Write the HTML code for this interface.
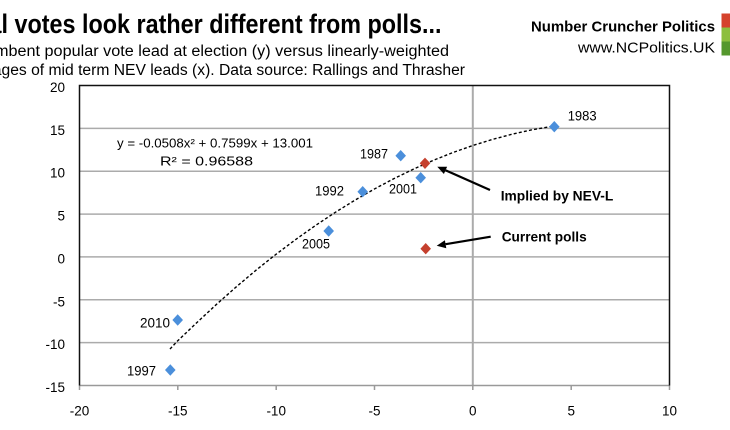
<!DOCTYPE html>
<html><head><meta charset="utf-8"><style>
html,body{margin:0;padding:0;background:#fff;}
svg{display:block;}
text{font-family:"Liberation Sans",Arial,sans-serif;fill:#000;}
</style></head><body>
<svg width="730" height="430" viewBox="0 0 730 430" xmlns="http://www.w3.org/2000/svg">
<rect x="0" y="0" width="730" height="430" fill="#fff"/>
<!-- Title -->
<text x="1.5" y="33" font-size="26.5" font-weight="bold" text-anchor="end">Actua</text>
<text x="1.5" y="33" font-size="26.5" font-weight="bold" textLength="440" lengthAdjust="spacingAndGlyphs">l votes look rather different from polls...</text>
<text x="-5" y="56" font-size="15.5" text-anchor="end">Incu</text>
<text x="-5" y="56" font-size="15.5" textLength="454" lengthAdjust="spacingAndGlyphs">mbent popular vote lead at election (y) versus linearly-weighted</text>
<text x="1.5" y="75" font-size="15.5" text-anchor="end">avera</text>
<text x="1.5" y="75" font-size="15.5" textLength="463.5" lengthAdjust="spacingAndGlyphs">ges of mid term NEV leads (x). Data source: Rallings and Thrasher</text>
<!-- Header right -->
<text x="715" y="31.5" font-size="15" font-weight="bold" text-anchor="end" textLength="184" lengthAdjust="spacingAndGlyphs">Number Cruncher Politics</text>
<text x="715" y="52.3" font-size="15" text-anchor="end" textLength="137" lengthAdjust="spacingAndGlyphs">www.NCPolitics.UK</text>
<rect x="721.5" y="13.5" width="8.5" height="14" fill="#d5422c"/>
<rect x="721.5" y="27.5" width="8.5" height="14" fill="#8dbf3e"/>
<rect x="721.5" y="41.5" width="8.5" height="14" fill="#55982d"/>

<!-- Gridlines -->
<g stroke="#ababab" stroke-width="1.5">
<line x1="79.5" y1="128.4" x2="669.5" y2="128.4"/>
<line x1="79.5" y1="171.2" x2="669.5" y2="171.2"/>
<line x1="79.5" y1="214.1" x2="669.5" y2="214.1"/>
<line x1="79.5" y1="256.9" x2="669.5" y2="256.9"/>
<line x1="79.5" y1="299.8" x2="669.5" y2="299.8"/>
<line x1="79.5" y1="342.6" x2="669.5" y2="342.6"/>
<line x1="472.8" y1="85.5" x2="472.8" y2="385.5" stroke-width="2"/>
</g>
<!-- bottom axis & ticks -->
<g stroke="#999" stroke-width="1.5">
<line x1="79.5" y1="385.5" x2="669.5" y2="385.5"/>
<line x1="79.5" y1="385.5" x2="79.5" y2="390"/>
<line x1="177.8" y1="385.5" x2="177.8" y2="390"/>
<line x1="276.2" y1="385.5" x2="276.2" y2="390"/>
<line x1="374.5" y1="385.5" x2="374.5" y2="390"/>
<line x1="472.8" y1="385.5" x2="472.8" y2="390"/>
<line x1="571.2" y1="385.5" x2="571.2" y2="390"/>
<line x1="669.5" y1="385.5" x2="669.5" y2="390"/>
</g>
<!-- frame -->
<polyline points="79.5,385.5 79.5,85.5 669.5,85.5 669.5,385.5" fill="none" stroke="#111" stroke-width="1.5"/>

<!-- Y labels -->
<g font-size="13.5" text-anchor="end">
<text x="65" y="92">20</text>
<text x="65" y="134.9">15</text>
<text x="65" y="177.7">10</text>
<text x="65" y="220.6">5</text>
<text x="65" y="263.4">0</text>
<text x="65" y="306.3">-5</text>
<text x="65" y="349.1">-10</text>
<text x="65" y="392">-15</text>
</g>
<!-- X labels -->
<g font-size="13.5" text-anchor="middle">
<text x="79.5" y="415.5">-20</text>
<text x="177.8" y="415.5">-15</text>
<text x="276.2" y="415.5">-10</text>
<text x="374.5" y="415.5">-5</text>
<text x="472.8" y="415.5">0</text>
<text x="571.2" y="415.5">5</text>
<text x="669.5" y="415.5">10</text>
</g>

<!-- trend line -->
<polyline fill="none" stroke="#000" stroke-width="1.4" stroke-dasharray="3,2.2"
points="169.97,349.05 177.34,341.16 197.5,322.0 217.17,303.74 236.84,286.35 256.5,269.82 276.17,254.16 295.84,239.38 315.5,225.46 335.17,212.41 354.84,200.24 374.5,188.93 394.17,178.51 413.84,168.95 433.51,160.26 453.17,152.44 472.84,145.49 492.5,139.41 512.17,134.2 531.84,129.86 554.46,125.96"/>

<!-- equation -->
<text x="117" y="147.5" font-size="13" textLength="196" lengthAdjust="spacingAndGlyphs">y = -0.0508x² + 0.7599x + 13.001</text>
<text x="160" y="165.5" font-size="13" textLength="93" lengthAdjust="spacingAndGlyphs">R² = 0.96588</text>

<!-- blue diamonds -->
<g fill="#4b8fdb">
<polygon points="554.3,121 559.6,126.7 554.3,132.4 549,126.7"/>
<polygon points="400.7,150 406,155.7 400.7,161.4 395.4,155.7"/>
<polygon points="420.7,172 426,177.7 420.7,183.4 415.4,177.7"/>
<polygon points="362.7,186 368,191.7 362.7,197.4 357.4,191.7"/>
<polygon points="328.7,225.3 334,231 328.7,236.7 323.4,231"/>
<polygon points="177.7,314.3 183,320 177.7,325.7 172.4,320"/>
<polygon points="170.3,364.3 175.6,370 170.3,375.7 165,370"/>
</g>
<!-- red diamonds -->
<g fill="#c5402e">
<polygon points="425,157.6 430.3,163.3 425,169 419.7,163.3"/>
<polygon points="425.7,243 431,248.7 425.7,254.4 420.4,248.7"/>
</g>

<!-- point labels -->
<g font-size="13.5">
<text x="567.7" y="120.6" textLength="29" lengthAdjust="spacingAndGlyphs">1983</text>
<text x="360" y="158.6" textLength="28" lengthAdjust="spacingAndGlyphs">1987</text>
<text x="389" y="193.6" textLength="28" lengthAdjust="spacingAndGlyphs">2001</text>
<text x="315" y="195.6" textLength="29" lengthAdjust="spacingAndGlyphs">1992</text>
<text x="302" y="248.6" textLength="28" lengthAdjust="spacingAndGlyphs">2005</text>
<text x="140" y="327.3" textLength="30" lengthAdjust="spacingAndGlyphs">2010</text>
<text x="127" y="375.6" textLength="29" lengthAdjust="spacingAndGlyphs">1997</text>
</g>

<!-- annotations -->
<text x="500.7" y="200.7" font-size="14" font-weight="bold" textLength="112.6" lengthAdjust="spacingAndGlyphs">Implied by NEV-L</text>
<text x="501.7" y="241.7" font-size="14" font-weight="bold" textLength="85" lengthAdjust="spacingAndGlyphs">Current polls</text>

<!-- arrows -->
<line x1="490" y1="190" x2="445.5" y2="170.3" stroke="#000" stroke-width="2.2"/>
<polygon points="437.3,166.7 447.1,166.7 443.9,174.0" fill="#000"/>
<line x1="490.7" y1="236.7" x2="445.6" y2="244.2" stroke="#000" stroke-width="2.2"/>
<polygon points="436.7,245.7 444.9,240.3 446.3,248.2" fill="#000"/>
</svg>
</body></html>
